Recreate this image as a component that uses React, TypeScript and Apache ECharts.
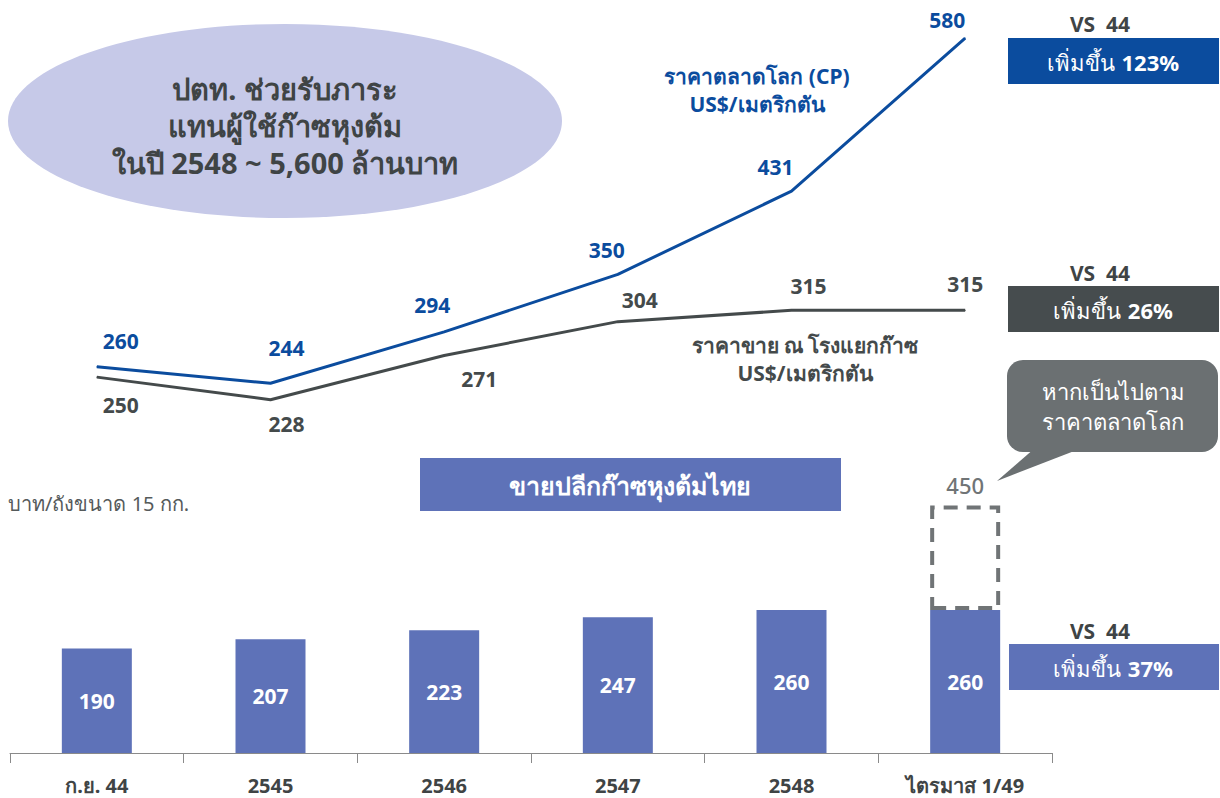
import React, { useEffect, useRef } from "react";
import * as echarts from "echarts";

const categories = ["ก.ย. 44", "2545", "2546", "2547", "2548", "ไตรมาส 1/49"];
const cpPrice = [260, 244, 294, 350, 431, 580];
const plantPrice = [250, 228, 271, 304, 315, 315];
const retailPrice = [190, 207, 223, 247, 260, 260];
const worldParityRetail = 450;
const grayLabelsBelowCount = 3;

// label nudges (layout only, separate from the data)
const cpLabelNudge = [[24, -3], [16, -12], [-12, -4], [-11, -1], [-16, -1], [-18, 5]];
const plantLabelNudge = [[24, 5], [16, 1], [35, 0], [22, 1], [17, -1], [0, -3]];

const BLUE_LINE = "#0b4c9e";
const GRAY_LINE = "#444a4b";
const BAR = "#5e72b8";
const FONT = "'Noto Sans', 'DejaVu Sans', sans-serif";

export default function App() {
  const ref = useRef<HTMLDivElement>(null);
  useEffect(() => {
    if (!ref.current) return;
    const chart = echarts.init(ref.current, null, { renderer: "svg" });
    const last = retailPrice.length - 1;
    const ghost = retailPrice.map((_, i) => (i === last ? worldParityRetail - retailPrice[i] : null));

    const boxText = (pct: string) => ({
      text: `{a|เพิ่มขึ้น}  {b|${pct}}`,
      align: "center",
      verticalAlign: "middle",
      rich: {
        a: { fill: "#ffffff", font: `22px ${FONT}` },
        b: { fill: "#ffffff", font: `bold 22px ${FONT}` },
      },
    });

    const option: any = {
      animation: false,
      backgroundColor: "#ffffff",
      textStyle: { fontFamily: FONT },
      grid: [
        { left: 10, width: 1042, top: 17.5, height: 411 },
        { left: 10, width: 1042, top: 478, height: 275 },
      ],
      xAxis: [
        { type: "category", gridIndex: 0, data: categories, show: false },
        {
          type: "category",
          gridIndex: 1,
          data: categories,
          axisLine: { lineStyle: { color: "#8a8a8a", width: 1 } },
          axisTick: { show: true, length: 10, lineStyle: { color: "#8a8a8a" } },
          axisLabel: { color: "#3f4445", fontSize: 20, fontWeight: "bold", margin: 22, fontFamily: FONT },
        },
      ],
      yAxis: [
        { type: "value", gridIndex: 0, min: 200, max: 600, show: false },
        { type: "value", gridIndex: 1, min: 0, max: 500, show: false },
      ],
      series: [
        {
          type: "line",
          xAxisIndex: 0,
          yAxisIndex: 0,
          data: cpPrice.map((v, i) => ({ value: v, label: { offset: cpLabelNudge[i] } })),
          symbol: "circle",
          symbolSize: 1,
          itemStyle: { color: BLUE_LINE },
          lineStyle: { color: BLUE_LINE, width: 3 },
          label: {
            show: true,
            position: "top",
            distance: 12,
            color: BLUE_LINE,
            fontSize: 21,
            fontWeight: "bold",
            fontFamily: FONT,
          },
          z: 3,
        },
        {
          type: "line",
          xAxisIndex: 0,
          yAxisIndex: 0,
          data: plantPrice.map((v, i) => ({
            value: v,
            label: {
              position: i < grayLabelsBelowCount ? "bottom" : "top",
              offset: plantLabelNudge[i],
            },
          })),
          symbol: "circle",
          symbolSize: 1,
          itemStyle: { color: GRAY_LINE },
          lineStyle: { color: GRAY_LINE, width: 3 },
          label: {
            show: true,
            position: "top",
            distance: 12,
            color: GRAY_LINE,
            fontSize: 21,
            fontWeight: "bold",
            fontFamily: FONT,
          },
          z: 2,
        },
        {
          type: "bar",
          xAxisIndex: 1,
          yAxisIndex: 1,
          stack: "retail",
          data: retailPrice,
          barWidth: 70,
          itemStyle: { color: BAR },
          label: {
            show: true,
            position: "inside",
            color: "#ffffff",
            fontSize: 21,
            fontWeight: "bold",
            fontFamily: FONT,
          },
        },
        {
          type: "bar",
          xAxisIndex: 1,
          yAxisIndex: 1,
          stack: "retail",
          data: ghost,
          barWidth: 70,
          itemStyle: {
            color: "rgba(0,0,0,0)",
            borderColor: "#707476",
            borderWidth: 4,
            borderType: [14, 9],
          },
          label: {
            show: true,
            position: "top",
            distance: 10,
            color: "#707476",
            fontSize: 22,
            fontWeight: 500,
            fontFamily: FONT,
            formatter: () => String(worldParityRetail),
          },
        },
      ],
      graphic: [
        {
          type: "ellipse",
          shape: { cx: 285, cy: 121, rx: 277, ry: 97 },
          style: { fill: "#c6c9e8" },
          z: 0,
        },
        {
          type: "text",
          x: 285,
          y: 125,
          style: {
            text: "ปตท. ช่วยรับภาระ\nแทนผู้ใช้ก๊าซหุงต้ม\nในปี 2548 ~ 5,600 ล้านบาท",
            fill: "#3f4445",
            font: `bold 29px ${FONT}`,
            align: "center",
            verticalAlign: "middle",
            lineHeight: 37,
          },
        },
        {
          type: "text",
          x: 757,
          y: 90,
          style: {
            text: "ราคาตลาดโลก (CP)\nUS$/เมตริกตัน",
            fill: BLUE_LINE,
            font: `bold 21px ${FONT}`,
            align: "center",
            verticalAlign: "middle",
            lineHeight: 28,
          },
        },
        {
          type: "text",
          x: 805,
          y: 359,
          style: {
            text: "ราคาขาย ณ โรงแยกก๊าซ\nUS$/เมตริกตัน",
            fill: GRAY_LINE,
            font: `bold 21px ${FONT}`,
            align: "center",
            verticalAlign: "middle",
            lineHeight: 28,
          },
        },
        // VS 44 boxes
        { type: "text", x: 1100, y: 24, style: { text: "VS  44", fill: "#3f4445", font: `bold 21px ${FONT}`, align: "center", verticalAlign: "middle" } },
        { type: "rect", shape: { x: 1008, y: 38, width: 211, height: 46 }, style: { fill: "#0b4c9e" } },
        { type: "text", x: 1113, y: 62, style: boxText("123%") },

        { type: "text", x: 1100, y: 273, style: { text: "VS  44", fill: "#3f4445", font: `bold 21px ${FONT}`, align: "center", verticalAlign: "middle" } },
        { type: "rect", shape: { x: 1008, y: 286, width: 211, height: 46 }, style: { fill: "#464c4e" } },
        { type: "text", x: 1113, y: 310, style: boxText("26%") },

        { type: "text", x: 1100, y: 631, style: { text: "VS  44", fill: "#3f4445", font: `bold 21px ${FONT}`, align: "center", verticalAlign: "middle" } },
        { type: "rect", shape: { x: 1009, y: 644, width: 210, height: 46 }, style: { fill: BAR } },
        { type: "text", x: 1113, y: 668, style: boxText("37%") },

        // callout
        { type: "polygon", shape: { points: [[1035, 448], [1082, 448], [997, 481]] }, style: { fill: "#6b7072" } },
        { type: "rect", shape: { x: 1007, y: 360, width: 211, height: 92, r: 16 }, style: { fill: "#6b7072" } },
        {
          type: "text",
          x: 1113,
          y: 406,
          style: {
            text: "หากเป็นไปตาม\nราคาตลาดโลก",
            fill: "#ffffff",
            font: `22px ${FONT}`,
            align: "center",
            verticalAlign: "middle",
            lineHeight: 30,
          },
        },

        // title box
        { type: "rect", shape: { x: 420, y: 458, width: 421, height: 53 }, style: { fill: BAR } },
        { type: "text", x: 630, y: 485, style: { text: "ขายปลีกก๊าซหุงต้มไทย", fill: "#ffffff", font: `bold 25px ${FONT}`, align: "center", verticalAlign: "middle" } },

        // unit
        { type: "text", x: 8, y: 503, style: { text: "บาท/ถังขนาด 15 กก.", fill: "#555a5b", font: `20px ${FONT}`, align: "left", verticalAlign: "middle" } },
      ],
    };
    chart.setOption(option);
    return () => chart.dispose();
  }, []);
  return <div ref={ref} style={{ position: "fixed", left: 0, top: 0, width: 1220, height: 798 }} />;
}
